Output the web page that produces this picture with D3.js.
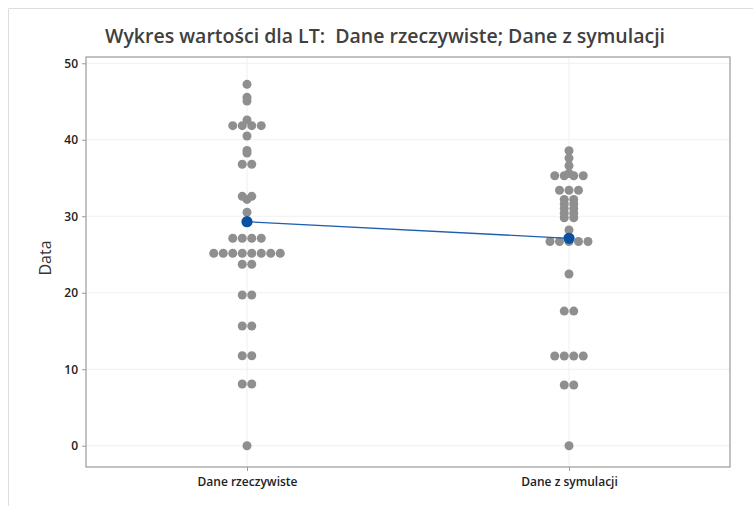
<!DOCTYPE html>
<html>
<head>
<meta charset="utf-8">
<script src="https://cdn.jsdelivr.net/npm/d3@7"></script>
<style>
  html, body { margin: 0; padding: 0; background: #fff; }
  svg { display: block; }
</style>
</head>
<body>
<svg id="chart" width="753" height="506"></svg>
<script>
// Individual value plot data
const categories = ["Dane rzeczywiste", "Dane z symulacji"];

const daneRzeczywiste = [
  47.25, 45.55, 45.07, 42.59, 41.84, 41.84, 41.84, 41.84, 40.49, 38.6, 38.27,
  36.8, 36.8, 32.6, 32.6, 32.2, 30.52, 27.12, 27.12, 27.12, 27.12,
  25.16, 25.16, 25.16, 25.16, 25.16, 25.16, 25.16, 25.16,
  23.72, 23.72, 19.7, 19.7, 15.65, 15.65, 11.77, 11.77, 8.07, 8.07, 0
];

const daneZSymulacji = [
  38.57, 37.6, 36.6, 35.6, 35.3, 35.3, 35.3, 35.3, 33.4, 33.4, 33.4,
  32.2, 32.2, 31.6, 31.6, 31.0, 31.0, 30.4, 30.4, 29.8, 29.8, 28.2,
  26.7, 26.7, 26.7, 26.7, 26.7, 22.45, 17.6, 17.6,
  11.73, 11.73, 11.73, 11.73, 7.94, 7.94, 0
];

const seriesValues = [daneRzeczywiste, daneZSymulacji];
const groupMeans = [29.29, 27.12];
const yTicks = [0, 10, 20, 30, 40, 50];

const titleText = "Wykres wartości dla LT:\u00a0\u00a0Dane rzeczywiste; Dane z symulacji";
const yTitle = "Data";

const svg = d3.select("#chart");
const W = 753, H = 506;
const plot = { left: 86, right: 730, top: 57, bottom: 467 };
const fontFamily = "'Segoe UI', 'Open Sans', 'Noto Sans', sans-serif";

const x = d3.scalePoint().domain(categories).range([plot.left, plot.right]).padding(0.5);
const y = d3.scaleLinear().domain([-2.78, 50.82]).range([plot.bottom, plot.top]);

// outer panel border
svg.append("path")
  .attr("d", `M8.5,${H} V8.5 H${W}`)
  .attr("fill", "none").attr("stroke", "#dedede").attr("stroke-width", 1);

// gridlines
const grid = svg.append("g");
grid.selectAll("line.h").data(yTicks).join("line")
  .attr("x1", plot.left).attr("x2", plot.right)
  .attr("y1", d => y(d)).attr("y2", d => y(d))
  .attr("stroke", "#f0f0f0").attr("stroke-width", 1);
grid.selectAll("line.v").data(categories).join("line")
  .attr("x1", d => x(d)).attr("x2", d => x(d))
  .attr("y1", plot.top).attr("y2", plot.bottom)
  .attr("stroke", "#f0f0f0").attr("stroke-width", 1);

// axes
const yAxis = d3.axisLeft(y).tickValues(yTicks).tickSize(4).tickPadding(4);
const gy = svg.append("g").attr("transform", `translate(${plot.left},0)`).call(yAxis);
const xAxis = d3.axisBottom(x).tickSize(4).tickPadding(6);
const gx = svg.append("g").attr("transform", `translate(0,${plot.bottom})`).call(xAxis);
[gx, gy].forEach(g => {
  g.select(".domain").remove();
  g.selectAll(".tick line").attr("stroke", "#9a9a9a");
  g.selectAll(".tick text")
    .attr("fill", "#222")
    .style("font-family", fontFamily)
    .style("font-size", "12px")
    .style("font-weight", "600");
});

// plot frame
svg.append("rect")
  .attr("x", plot.left).attr("y", plot.top)
  .attr("width", plot.right - plot.left).attr("height", plot.bottom - plot.top)
  .attr("fill", "none").attr("stroke", "#9a9a9a").attr("stroke-width", 1.2);

// dots: equal values are spread side by side around the category centre
const r = 4.5, gap = 9.5;
const dots = [];
seriesValues.forEach((vals, gi) => {
  const counts = d3.rollup(vals, v => v.length, v => v);
  const seen = new Map();
  vals.forEach(v => {
    const n = counts.get(v);
    const i = seen.get(v) || 0;
    seen.set(v, i + 1);
    dots.push({ cat: categories[gi], value: v, offset: (i - (n - 1) / 2) * gap });
  });
});

svg.append("g").selectAll("circle").data(dots).join("circle")
  .attr("cx", d => x(d.cat) + d.offset)
  .attr("cy", d => y(d.value))
  .attr("r", r)
  .attr("fill", "#8f8f8f");

// mean connect line and mean symbols
const meanData = categories.map((c, i) => ({ cat: c, value: groupMeans[i] }));
svg.append("path")
  .datum(meanData)
  .attr("d", d3.line().x(d => x(d.cat)).y(d => y(d.value)))
  .attr("fill", "none").attr("stroke", "#1f5fb0").attr("stroke-width", 1.3);
svg.append("g").selectAll("circle").data(meanData).join("circle")
  .attr("cx", d => x(d.cat)).attr("cy", d => y(d.value))
  .attr("r", 5.6).attr("fill", "#0a51a3");

// titles
svg.append("text")
  .attr("x", 385).attr("y", 43)
  .attr("text-anchor", "middle")
  .attr("fill", "#404040")
  .style("font-family", fontFamily)
  .style("font-size", "19.5px")
  .style("font-weight", "600")
  .text(titleText);

svg.append("text")
  .attr("transform", `translate(51,258) rotate(-90)`)
  .attr("text-anchor", "middle")
  .attr("fill", "#333")
  .style("font-family", fontFamily)
  .style("font-size", "16px")
  .text(yTitle);
</script>
</body>
</html>
